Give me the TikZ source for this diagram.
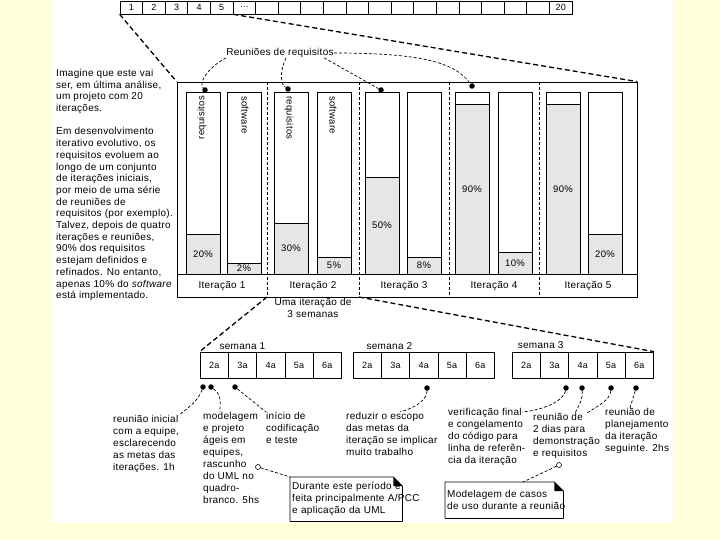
\documentclass[tikz,border=0pt]{standalone}
\usepackage{fontspec}
\setmainfont{Liberation Sans}[LetterSpace=3.0]
\usepackage{tikz}
\usetikzlibrary{positioning}
\definecolor{panelbg}{RGB}{255,255,218}
\definecolor{barfill}{RGB}{230,230,230}

\begin{document}
\begin{tikzpicture}[
    x=1pt, y=-1pt,
    line join=round,
    txt/.style={font=\fontsize{10}{12}\selectfont, inner sep=0pt, align=left},
    para/.style={font=\fontsize{10}{11.7}\selectfont, inner sep=0pt, align=left, anchor=north west},
    cell/.style={draw, line width=0.7pt, minimum width=22.6pt, minimum height=13pt, inner sep=0pt, font=\fontsize{9}{9}\selectfont},
    day/.style={draw, line width=0.7pt, minimum width=28.3pt, minimum height=26pt, inner sep=0pt, font=\fontsize{9}{9}\selectfont},
    bar/.style={draw, line width=0.7pt, minimum width=34pt, minimum height=182pt, inner sep=0pt},
    pct/.style={font=\fontsize{9.5}{10}\selectfont, inner sep=0pt},
    bar name/.style={font=\fontsize{9.5}{10}\selectfont, inner sep=0pt},
    it label/.style={font=\fontsize{10}{10}\selectfont, inner sep=0pt},
    blob/.style={circle, fill, inner sep=0pt, minimum size=5.5pt},
    ring/.style={circle, draw, line width=0.6pt, inner sep=0pt, minimum size=5pt},
    big dash/.style={line width=1.3pt, dash pattern=on 5pt off 3pt},
    sep dash/.style={line width=0.6pt, dash pattern=on 3pt off 2pt},
    callout line/.style={line width=0.7pt, densely dashed},
    note/.style={txt, text width=#1, inner xsep=2pt, inner ysep=0pt, anchor=north west},
    note line/.style={line width=0.7pt},
]
\fill[panelbg] (0,0) rectangle (720,540);
\fill[white] (52,0) rectangle (673,523);
\useasboundingbox (0,0) rectangle (720,540);

\foreach \t [count=\k] in {1,2,3,4,5,\ldots,{},{},{},{},{},{},{},{},{},{},{},{},{},20}
    \node[cell] (c\k) at ({120+22.6*(\k-0.5)},7.5) {\t};

\node[draw, line width=0.7pt, minimum width=460pt, minimum height=215pt, inner sep=0pt] (plan) at (407,189.5) {};
\draw[line width=0.7pt] (177,274) -- (637,274);
\foreach \sx [count=\j] in {267,359,449,539}
    \draw[sep dash] (\sx,82) coordinate (sept\j) -- (\sx,297) coordinate (sepb\j);

\foreach \bx/\sx/\rt/\st/\rp/\sp/\cx [count=\i] in {186/227/234/263/20/2/222, 274/317/223/257/30/5/313, 365/407/177/257/50/8/404, 455/498/104/252/90/10/494, 546/588/104/234/90/20/588} {
    \fill[barfill] (\bx,\rt) rectangle (\bx+34,274);
    \fill[barfill] (\sx,\st) rectangle (\sx+34,274);
    \draw[line width=0.7pt] (\bx,\rt) -- (\bx+34,\rt);
    \draw[line width=0.7pt] (\sx,\st) -- (\sx+34,\st);
    \node[bar] (req\i) at (\bx+17,183) {};
    \node[bar] (sw\i) at (\sx+17,183) {};
    \node[pct] (rp\i) at (\bx+17,{(\rt+274)/2}) {\rp\%};
    \node[pct] (sp\i) at (\sx+17,{(\st+274)/2}) {\sp\%};
    \node[it label] (it\i) at (\cx,286) {Iteração \i};
}
\node[bar name, rotate=90, anchor=east] (rq1) at (202,96) {requisitos};
\node[bar name, rotate=-90, anchor=west] (sf1) at (245,96) {software};
\node[bar name, rotate=-90, anchor=west] (rq2) at (289,96) {requisitos};
\node[bar name, rotate=-90, anchor=west] (sf2) at (333,96) {software};

\draw[big dash] (c1.south west) -- (plan.north west);
\draw[big dash] (c5.south east) -- (plan.north east);

\node[txt] (reu) at (280,53) {Reuniões de requisitos};
\node[blob] (r1) at (205,90) {};
\node[blob] (r2) at (288,89) {};
\node[blob] (r3) at (381,90) {};
\node[blob] (r4) at (472,86) {};
\draw[callout line] (reu.south west) .. controls (210,66) and (198,82) .. (r1);
\draw[callout line] ([xshift=60pt]reu.south west) .. controls (280,70) and (280,84) .. (r2);
\draw[callout line] ([xshift=98pt]reu.south west) -- (r3);
\draw[callout line] (reu.east) .. controls (420,53) and (455,62) .. (r4);

\node[para] (intro) at (56,69) {Imagine que este vai\\
ser, em última análise,\\
um projeto com 20\\
iterações.\\[11.7pt]
Em desenvolvimento\\
iterativo evolutivo, os\\
requisitos evoluem ao\\
longo de um conjunto\\
de iterações iniciais,\\
por meio de uma série\\
de reuniões de\\
requisitos (por exemplo).\\
Talvez, depois de quatro\\
iterações e reuniões,\\
90\% dos requisitos\\
estejam definidos e\\
refinados. No entanto,\\
apenas 10\% do \textit{software}\\
está implementado.};

\node[txt, align=center, anchor=north] (umait) at (313,298) {Uma iteração de\\3 semanas};

\foreach \sl [count=\s] in {200,353,512}
    \foreach \d [count=\k] in {2a,3a,4a,5a,6a}
        \node[day] (s\s-\k) at ({\sl+28.3*(\k-0.5)},365) {\d};
\node[txt, above=2pt of s1-2] (wk1) {semana 1};
\node[txt, above=2pt of s2-2, xshift=-6pt] (wk2) {semana 2};
\node[txt, above=3pt of s3-1.north east] (wk3) {semana 3};

\draw[big dash] (sepb1) -- (s1-1.north west);
\draw[big dash] (sepb2) -- (s3-5.north east);

\node[txt, anchor=north west] (tIni) at (113,415) {reunião inicial\\com a equipe,\\esclarecendo\\as metas das\\iterações. 1h};
\node[txt, anchor=north west] (tMod) at (203,412) {modelagem\\e projeto\\ágeis em\\equipes,\\rascunho\\do UML no\\quadro-\\branco. 5hs};
\node[txt, anchor=north west] (tCod) at (266,412) {início de\\codificação\\e teste};
\node[txt, anchor=north west] (tRed) at (346,412) {reduzir o escopo\\das metas da\\iteração se implicar\\muito trabalho};
\node[txt, anchor=north west] (tVer) at (448,408) {verificação final\\e congelamento\\do código para\\linha de referên-\\cia da iteração};
\node[txt, anchor=north west] (tDem) at (533,413) {reunião de\\2 dias para\\demonstração\\e requisitos};
\node[txt, anchor=north west] (tPla) at (605,408) {reunião de\\planejamento\\da iteração\\seguinte. 2hs};

\node[blob] (dIni) at (203,387) {};
\node[blob] (dMod) at (211,387) {};
\node[blob] (dCod) at (235,387) {};
\node[blob] (dRed) at (427,388) {};
\node[blob] (dVer) at (566,388) {};
\node[blob] (dDem1) at (582,388) {};
\node[blob] (dDem2) at (611,388) {};
\node[blob] (dPla) at (636,388) {};
\draw[callout line] (dIni) .. controls (198,402) and (185,410) .. (tIni.north east);
\draw[callout line] (dMod) .. controls (222,395) and (220,402) .. ([xshift=17pt]tMod.north west);
\draw[callout line] (dCod) -- (tCod.north west);
\draw[callout line] (dRed) .. controls (427,400) and (415,408) .. ([xshift=54pt]tRed.north west);
\draw[callout line] (dVer) .. controls (564,400) and (545,410) .. ([xshift=74pt,yshift=-4pt]tVer.north west);
\draw[callout line] (dDem1) .. controls (583,398) and (580,404) .. ([xshift=42pt]tDem.north west);
\draw[callout line] (dDem2) .. controls (610,400) and (598,406) .. ([xshift=54pt]tDem.north west);
\draw[callout line] (dPla) -- ([xshift=25pt]tPla.north west);

\node[note=108pt, minimum height=44pt] (n1) at (290,477) {\mbox{Durante este período é}\\\mbox{feita principalmente A/PCC}\\\mbox{e aplicação da UML}};
\node[note=114pt, minimum height=36pt] (n2) at (445,482) {\mbox{Modelagem de casos}\\\mbox{de uso durante a reunião}};
\foreach \n in {n1,n2} {
    \draw[note line] (\n.south west) -- (\n.north west) -- ([xshift=-9pt]\n.north east) -- ([yshift=-9pt]\n.north east) -- (\n.south east) -- cycle;
    \fill ([xshift=-9pt]\n.north east) -- ([xshift=-9pt,yshift=-9pt]\n.north east) -- ([yshift=-9pt]\n.north east) -- cycle;
}
\node[ring] (oMod) at (258,467) {};
\node[ring] (oDem) at (559,465) {};
\draw[callout line] (oMod) -- (n1.north west);
\draw[callout line] (oDem) -- ([xshift=78pt]n2.north west);

\end{tikzpicture}
\end{document}
